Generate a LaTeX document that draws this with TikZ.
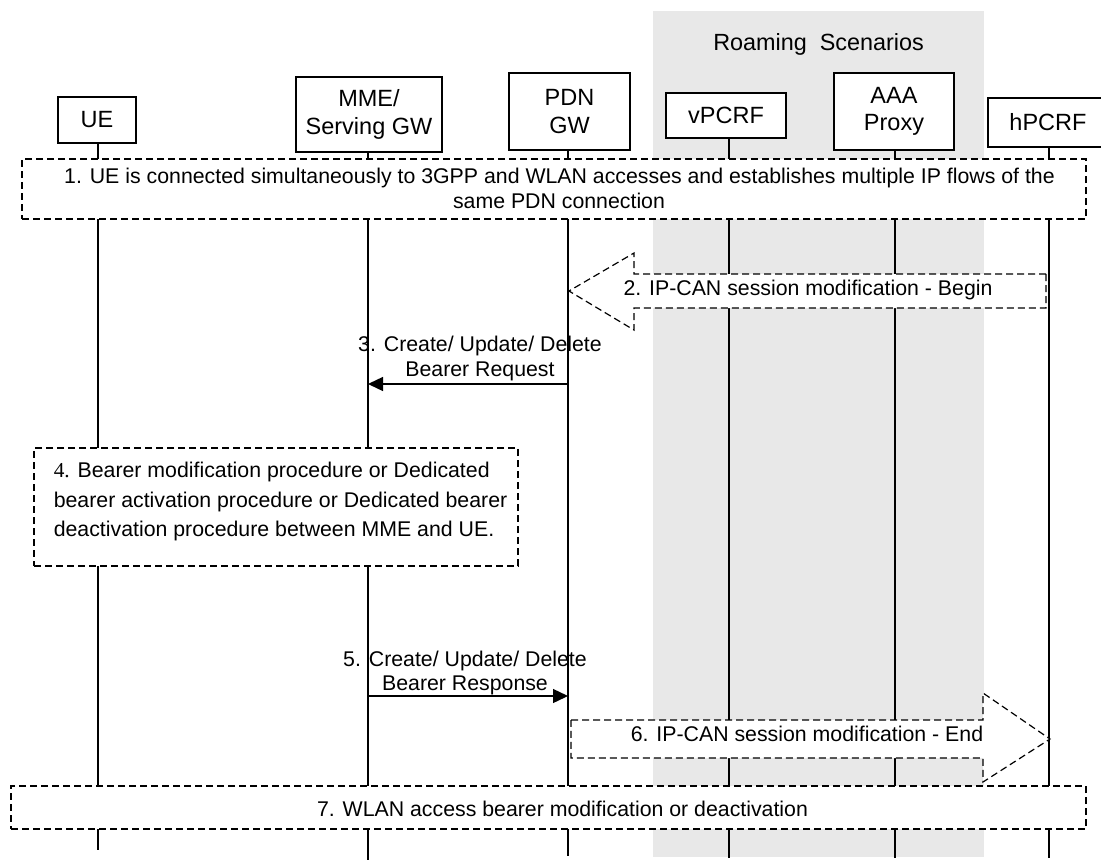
\documentclass[tikz,border=0pt]{standalone}
\usepackage{fontspec}
\setmainfont{Liberation Sans}
\newfontfamily\tnrfont{Liberation Serif}
\usetikzlibrary{arrows.meta}
\definecolor{roamgray}{RGB}{232,232,232}
\begin{document}
\begin{tikzpicture}[x=1pt,y=-1pt,
  entity/.style={draw, line width=1.4pt, fill=white, inner sep=0pt, align=center, font=\fontsize{23.5}{27.5}\selectfont},
  msg/.style={inner sep=0pt, font=\fontsize{21.3}{25.5}\selectfont},
  dbox/.style={draw, line width=1.2pt, dash pattern=on 7pt off 4pt, fill=white, inner sep=0pt},
  dshape/.style={draw, line width=1.2pt, dash pattern=on 7pt off 4pt, fill=white},
  life/.style={line width=1.3pt},
  msgarrow/.style={line width=1.4pt, -{Triangle[length=15pt,width=14pt]}}
]
\useasboundingbox (0,0) rectangle (1101,860);
% roaming area
\fill[roamgray] (653,11) rectangle (984,857);
\node[msg, anchor=base, font=\fontsize{23.4}{27}\selectfont] (roamtitle) at (818.6,50) {Roaming\ \ Scenarios};
% entities
\node[entity, minimum width=78pt, minimum height=46pt] (ue) at (97,120) {UE};
\node[entity, minimum width=146pt, minimum height=75pt] (mme) at (369,114.5) {MME/\\Serving GW};
\node[entity, minimum width=121pt, minimum height=77pt] (pdn) at (569.5,111.5) {PDN\\GW};
\node[entity, minimum width=120pt, minimum height=45pt] (vpcrf) at (726,115.5) {vPCRF};
\node[entity, minimum width=120pt, minimum height=77pt] (aaa) at (894,111.5) {AAA\\Proxy};
\node[entity, minimum width=120pt, minimum height=49pt] (hpcrf) at (1048,122.5) {hPCRF};
% lifelines
\coordinate (ueE) at (98,850);
\coordinate (mmeE) at (368,860);
\coordinate (pdnE) at (568,856);
\coordinate (vpE) at (729,858);
\coordinate (aaaE) at (895,858);
\coordinate (hpE) at (1049,858);
\draw[life] (ueE |- ue.south) -- (ueE);
\draw[life] (mmeE |- mme.south) -- (mmeE);
\draw[life] (pdnE |- pdn.south) -- (pdnE);
\draw[life] (vpE |- vpcrf.south) -- (vpE);
\draw[life] (aaaE |- aaa.south) -- (aaaE);
\draw[life] (hpE |- hpcrf.south) -- (hpE);
% step 1
\node[dbox, minimum width=1064pt, minimum height=60pt] (b1) at (554,189) {};
\node[msg, anchor=base] (t1a) at (559.5,183) {1. UE is connected simultaneously to 3GPP and WLAN accesses and establishes multiple IP flows of the};
\node[msg, anchor=base] (t1b) at (559,208) {same PDN connection};
% step 2
\draw[dshape] (1046,274) -- (634,274) -- (634,253) -- (569,291) -- (634,330) -- (634,308) -- (1046,308) -- cycle;
\node[msg, anchor=base] (t2) at (808,295) {2. IP-CAN session modification - Begin};
% step 3
\coordinate (s3a) at (568,384);
\coordinate (s3b) at (368,384);
\draw[msgarrow] (s3a) -- (s3b);
\node[msg, anchor=base] (t3a) at (480,351) {3. Create/ Update/ Delete};
\node[msg, anchor=base] (t3b) at (480,376) {Bearer Request};
% step 4
\node[dbox, minimum width=484pt, minimum height=118pt] (b4) at (276,507) {};
\node[msg, anchor=base west] (t4a) at (53.6,477) {{\tnrfont 4.} Bearer modification procedure or Dedicated};
\node[msg, anchor=base west] (t4b) at (53.6,507) {bearer activation procedure or Dedicated bearer};
\node[msg, anchor=base west] (t4c) at (53.6,536) {deactivation procedure between MME and UE.};
% step 5
\coordinate (s5a) at (368,696);
\coordinate (s5b) at (568,696);
\draw[msgarrow] (s5a) -- (s5b);
\node[msg, anchor=base] (t5a) at (465,666) {5. Create/ Update/ Delete};
\node[msg, anchor=base] (t5b) at (465,690) {Bearer Response};
% step 6
\draw[dshape] (571,720) -- (983,720) -- (983,693) -- (1050,739) -- (983,782) -- (983,758) -- (571,758) -- cycle;
\node[msg, anchor=base] (t6) at (807,741.5) {6. IP-CAN session modification - End};
% step 7
\node[dbox, minimum width=1075pt, minimum height=43pt] (b7) at (548.5,807.5) {};
\node[msg, anchor=base] (t7) at (562.5,816) {7. WLAN access bearer modification or deactivation};
\end{tikzpicture}
\end{document}
